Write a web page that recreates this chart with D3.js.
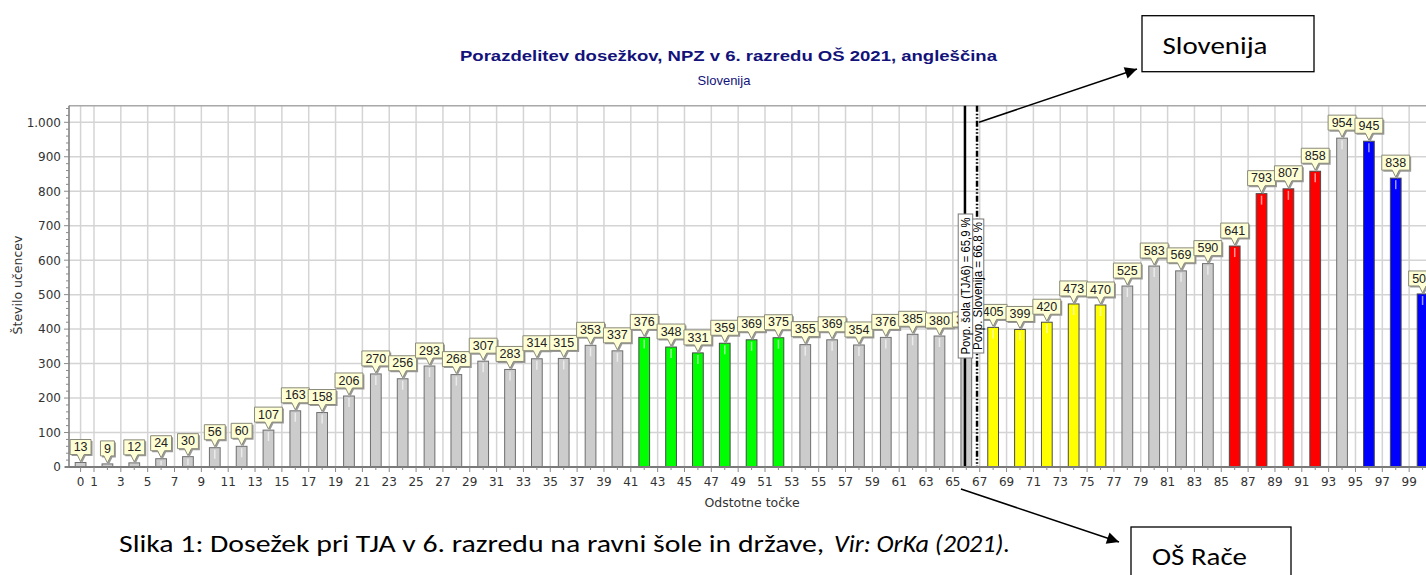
<!DOCTYPE html>
<html><head><meta charset="utf-8">
<script src="https://cdn.jsdelivr.net/npm/d3@7"></script>
<style>
body{margin:0;background:#fff;}
svg{display:block;overflow:hidden;}
</style>
</head><body>
<svg id="c" width="1426" height="575"></svg>
<script>
// ---------- DATA ----------
const scorePoints = [0,2,4,6,8,10,12,14,16,18,20,22,24,26,28,30,32,34,36,38,40,42,44,46,48,50,52,54,56,58,60,62,64,66,68,70,72,74,76,78,80,82,84,86,88,90,92,94,96,98,100];
const studentCounts = [13,9,12,24,30,56,60,107,163,158,206,270,256,293,268,307,283,314,315,353,337,376,348,331,359,369,375,355,369,354,376,385,380,383,405,399,420,473,470,525,583,569,590,641,793,807,858,954,945,838,502];
const barGroups = ["grey","grey","grey","grey","grey","grey","grey","grey","grey","grey","grey","grey","grey","grey","grey","grey","grey","grey","grey","grey","grey",
  "green","green","green","green","green","green",
  "grey","grey","grey","grey","grey","grey","grey",
  "yellow","yellow","yellow","yellow","yellow",
  "grey","grey","grey","grey",
  "red","red","red","red",
  "grey",
  "blue","blue","blue"];
const xTickLabels = [0,1,3,5,7,9,11,13,15,17,19,21,23,25,27,29,31,33,35,37,39,41,43,45,47,49,51,53,55,57,59,61,63,65,67,69,71,73,75,77,79,81,83,85,87,89,91,93,95,97,99];
const yTickValues = [0,100,200,300,400,500,600,700,800,900,1000];
const meanLines = [
  {label:"Povp. šola (TJA6) = 65,9 %", value:65.9, dash:null},
  {label:"Povp. Slovenija = 66,8 %", value:66.8, dash:"6,2,1.5,2,1.5,2"}
];
const chartTitle = "Porazdelitev dosežkov, NPZ v 6. razredu OŠ 2021, angleščina";
const chartSubtitle = "Slovenija";
const yTitle = "Število učencev";
const xTitle = "Odstotne točke";
const captionNormal = "Slika 1: Dosežek pri TJA v 6. razredu na ravni šole in države, ";
const captionItalic = "Vir: OrKa (2021).";
const noteNational = "Slovenija";
const noteSchool = "OŠ Rače";

const groupColors = {grey:"#cccccc", green:"#00ff00", yellow:"#ffff00", red:"#ff0000", blue:"#0000ff"};

// ---------- LAYOUT ----------
const svg = d3.select("#c");
const plotLeft = 69, plotTop = 105.7, plotBottom = 467, plotRight = 1436;
const x = d3.scaleLinear().domain([-0.863, 101]).range([plotLeft, plotRight]);
const y = d3.scaleLinear().domain([0, 1000]).range([plotBottom, 122.3]);
const yTopValue = y.invert(plotTop);

const locale = d3.formatLocale({decimal:",", thousands:".", grouping:[3], currency:["","€"]});
const fmt = locale.format(",d");

const data = scorePoints.map((p,i)=>({p, v:studentCounts[i], g:barGroups[i]}));

// grid
const grid = svg.append("g");
grid.selectAll("line.v").data(xTickLabels).join("line")
  .attr("x1",d=>x(d)).attr("x2",d=>x(d)).attr("y1",plotTop).attr("y2",plotBottom)
  .attr("stroke","#d4d4d4").attr("stroke-width",1.5);
grid.selectAll("line.h").data(yTickValues.filter(d=>d>0)).join("line")
  .attr("x1",plotLeft).attr("x2",plotRight).attr("y1",d=>y(d)).attr("y2",d=>y(d))
  .attr("stroke","#d4d4d4").attr("stroke-width",1.5);
// top border
svg.append("line").attr("x1",plotLeft).attr("x2",plotRight).attr("y1",plotTop).attr("y2",plotTop)
  .attr("stroke","#a8a8a8").attr("stroke-width",1.5);

// bars
const halfW = (x(0.4)-x(0));
const bars = svg.append("g");
bars.selectAll("rect").data(data).join("rect")
  .attr("x",d=>x(d.p)-halfW).attr("width",halfW*2)
  .attr("y",d=>y(d.v)).attr("height",d=>y(0)-y(d.v))
  .attr("fill",d=>groupColors[d.g])
  .attr("stroke",d=>d.g==="grey"?"#6e6e6e":"#4a4a4a").attr("stroke-width",1);
// highlight stripe
bars.selectAll("line").data(data.filter(d=>y(0)-y(d.v)>6)).join("line")
  .attr("x1",d=>x(d.p)).attr("x2",d=>x(d.p))
  .attr("y1",d=>y(d.v)+2).attr("y2",d=>Math.min(y(d.v)+11, y(0)-2))
  .attr("stroke","rgba(255,255,255,0.6)").attr("stroke-width",1.5);

// value callouts
const lblG = svg.append("g");
data.forEach(d=>{
  const g = lblG.append("g").attr("transform",`translate(${x(d.p)},${y(d.v)})`);
  const t = g.append("text").text(d.v)
    .attr("font-family","'Liberation Sans Narrow','Arial Narrow','Liberation Sans',sans-serif")
    .attr("font-size",12.5).attr("fill","#222").attr("text-anchor","middle");
  const w = t.node().getComputedTextLength()+7;
  const h = 15, bottom = -8, top = bottom-h, tip = -1;
  const l = -w/2, r = w/2;
  const pth = `M${l},${top}H${r}V${bottom}H3.5L0,${tip}L-3.5,${bottom}H${l}Z`;
  g.insert("path","text").attr("d",pth).attr("transform","translate(1.5,1.5)").attr("fill","#9a9a9a");
  g.insert("path","text").attr("d",pth).attr("fill","#ffffd6").attr("stroke","#8a8a7a").attr("stroke-width",1);
  t.attr("y",top+11.6);
});

// mean lines
const ml = svg.append("g");
meanLines.forEach(m=>{
  ml.append("line").attr("x1",x(m.value)).attr("x2",x(m.value)).attr("y1",plotTop).attr("y2",plotBottom)
    .attr("stroke","#000").attr("stroke-width",2.5).attr("stroke-dasharray",m.dash);
});
// mean labels (national first so school box sits on top)
const boxes = [
  {m:meanLines[1], y1:219, y2:353, w:12.5, len:128},
  {m:meanLines[0], y1:214, y2:358, w:14.5, len:137}
];
boxes.forEach(b=>{
  const cx = x(b.m.value)+0.5;
  ml.append("rect").attr("x",cx-b.w/2).attr("y",b.y1).attr("width",b.w).attr("height",b.y2-b.y1)
    .attr("fill","#fff").attr("stroke","#777").attr("stroke-width",1);
  ml.append("text").text(b.m.label)
    .attr("transform",`translate(${cx+0.5},${(b.y1+b.y2)/2}) rotate(-90)`)
    .attr("text-anchor","middle").attr("dy","0.36em")
    .attr("font-family","'Liberation Sans',Arial,sans-serif").attr("font-size",12)
    .attr("textLength",b.len).attr("lengthAdjust","spacingAndGlyphs").attr("fill","#000");
});

// axes
const ax = svg.append("g");
ax.append("line").attr("x1",plotLeft).attr("x2",plotLeft).attr("y1",plotTop).attr("y2",plotBottom)
  .attr("stroke","#7a7a7a").attr("stroke-width",1.5);
ax.append("line").attr("x1",plotLeft-4).attr("x2",plotRight).attr("y1",plotBottom).attr("y2",plotBottom)
  .attr("stroke","#7a7a7a").attr("stroke-width",2);
// y minor ticks
const yMinor = d3.range(0, 1041, 20);
ax.selectAll("line.ym").data(yMinor).join("line")
  .attr("x1",d=>plotLeft-(d%100===0?5:3)).attr("x2",plotLeft).attr("y1",d=>y(d)).attr("y2",d=>y(d))
  .attr("stroke","#8a8a8a").attr("stroke-width",1);
// x minor ticks
const xMinor = d3.range(0, 101, 1);
ax.selectAll("line.xm").data(xMinor).join("line")
  .attr("x1",d=>x(d)).attr("x2",d=>x(d)).attr("y1",plotBottom).attr("y2",d=>plotBottom+(xTickLabels.includes(d)?5:3))
  .attr("stroke","#8a8a8a").attr("stroke-width",1);
ax.selectAll("text.yl").data(yTickValues).join("text")
  .attr("x",61).attr("y",d=>y(d)).attr("dy","0.36em").attr("text-anchor","end")
  .attr("font-family","'DejaVu Sans',Verdana,sans-serif").attr("font-size",12).attr("fill","#333")
  .text(d=>fmt(d));
ax.selectAll("text.xl").data(xTickLabels).join("text")
  .attr("x",d=>x(d)).attr("y",486).attr("text-anchor","middle")
  .attr("font-family","'DejaVu Sans',Verdana,sans-serif").attr("font-size",12).attr("fill","#333")
  .text(d=>d);
// axis titles
svg.append("text").text(yTitle)
  .attr("transform",`translate(22,285) rotate(-90)`).attr("text-anchor","middle")
  .attr("font-family","'DejaVu Sans',Verdana,sans-serif").attr("font-size",12.5).attr("fill","#333");
svg.append("text").text(xTitle).attr("x",752).attr("y",507).attr("text-anchor","middle")
  .attr("font-family","'DejaVu Sans',Verdana,sans-serif").attr("font-size",12.5).attr("fill","#333");

// titles
svg.append("text").text(chartTitle).attr("x",728.5).attr("y",61).attr("text-anchor","middle")
  .attr("font-family","'Liberation Sans',Arial,sans-serif").attr("font-weight","bold").attr("font-size",15.5)
  .attr("fill","#12127a").attr("textLength",537).attr("lengthAdjust","spacingAndGlyphs");
svg.append("text").text(chartSubtitle).attr("x",724).attr("y",85).attr("text-anchor","middle")
  .attr("font-family","'Liberation Sans',Arial,sans-serif").attr("font-size",13).attr("fill","#12127a");

// annotations
const defs = svg.append("defs");
defs.append("marker").attr("id","ah").attr("viewBox","0 0 10 10").attr("refX",10).attr("refY",5)
  .attr("markerWidth",10).attr("markerHeight",10).attr("markerUnits","userSpaceOnUse")
  .attr("orient","auto").append("path").attr("d","M0,0L10,5L0,10Z").attr("fill","#000");
defs.select("marker").attr("markerWidth",16).attr("markerHeight",12);

const ann = svg.append("g");
ann.append("line").attr("x1",x(66.8)+2).attr("y1",y(1000)).attr("x2",1137).attr("y2",69)
  .attr("stroke","#000").attr("stroke-width",1.5).attr("marker-end","url(#ah)");
ann.append("line").attr("x1",x(65.9)-4).attr("y1",489).attr("x2",1119).attr("y2",542)
  .attr("stroke","#000").attr("stroke-width",1.5).attr("marker-end","url(#ah)");
ann.append("rect").attr("x",1142).attr("y",15.7).attr("width",172).attr("height",56)
  .attr("fill","#fff").attr("stroke","#000").attr("stroke-width",1.3);
ann.append("text").text(noteNational).attr("x",1162.5).attr("y",53.5)
  .attr("font-family","Carlito,Lato,'Open Sans',sans-serif").attr("font-size",25).attr("fill","#000")
  .attr("textLength",105).attr("lengthAdjust","spacingAndGlyphs");
ann.append("rect").attr("x",1131).attr("y",527).attr("width",160).attr("height",60)
  .attr("fill","#fff").attr("stroke","#000").attr("stroke-width",1.3);
ann.append("text").text(noteSchool).attr("x",1152).attr("y",565)
  .attr("font-family","Carlito,Lato,'Open Sans',sans-serif").attr("font-size",25).attr("fill","#000")
  .attr("textLength",95).attr("lengthAdjust","spacingAndGlyphs");

// caption
svg.append("text").text(captionNormal).attr("x",119).attr("y",551.5)
  .attr("font-family","Carlito,Lato,'Open Sans',sans-serif").attr("font-size",24).attr("fill","#000")
  .attr("textLength",712).attr("lengthAdjust","spacingAndGlyphs").attr("xml:space","preserve");
svg.append("text").text(captionItalic).attr("x",834).attr("y",551.5)
  .attr("font-family","Carlito,Lato,'Open Sans',sans-serif").attr("font-size",24).attr("font-style","italic").attr("fill","#000")
  .attr("textLength",176).attr("lengthAdjust","spacingAndGlyphs");
</script>
</body></html>
